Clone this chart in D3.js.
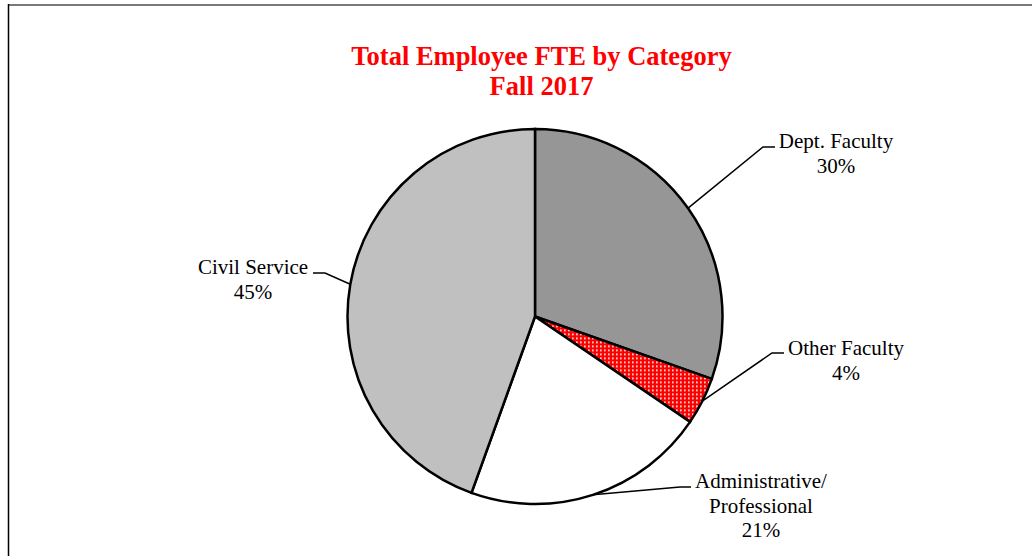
<!DOCTYPE html>
<html>
<head>
<meta charset="utf-8">
<script src="https://cdn.jsdelivr.net/npm/d3@7"></script>
<style>
  html, body { margin: 0; padding: 0; background: #fff; }
  svg { display: block; }
  text { font-family: 'Liberation Serif', 'Times New Roman', serif; fill: #000; }
</style>
</head>
<body>
<div class="container"></div>
<script>
// data
const categories = ['Dept. Faculty', 'Other Faculty', 'Administrative/Professional', 'Civil Service'];
const shares = [30.4, 4.1, 21.0, 44.5];
const labelNames = [['Dept. Faculty'], ['Other Faculty'], ['Administrative/', 'Professional'], ['Civil Service']];
const titleLines = ['Total Employee FTE by Category', 'Fall 2017'];

const width = 1032;
const height = 556;
const cx = 535;
const cy = 316.5;
const radius = 187.5;

const fills = ['#969696', 'url(#dots)', '#ffffff', '#c0c0c0'];

// label layout: text centre x, first baseline y, elbow point, end of the short horizontal tick
const labelLayout = [
  { x: 836, y: 148, elbow: [763, 147], end: [775, 147] },
  { x: 846, y: 355, elbow: [772, 353], end: [784, 353] },
  { x: 761, y: 488, elbow: [680, 487], end: [691, 487] },
  { x: 253, y: 274, elbow: [325, 273], end: [313, 273] }
];

const svg = d3
  .select('.container')
  .append('svg')
  .attr('width', width)
  .attr('height', height);

// dotted red pattern
const pattern = svg
  .append('defs')
  .append('pattern')
  .attr('id', 'dots')
  .attr('patternUnits', 'userSpaceOnUse')
  .attr('width', 4)
  .attr('height', 4);
pattern.append('rect').attr('width', 4).attr('height', 4).attr('fill', '#ff0000');
pattern.append('rect').attr('x', 1).attr('y', 1).attr('width', 1.7).attr('height', 1.6).attr('fill', '#ffffff');

// frame
svg.append('line')
  .attr('x1', 8).attr('x2', width).attr('y1', 5).attr('y2', 5)
  .attr('stroke', '#7a7a7a').attr('stroke-width', 2);
svg.append('line')
  .attr('x1', 8.5).attr('x2', 8.5).attr('y1', 4).attr('y2', height)
  .attr('stroke', '#000').attr('stroke-width', 1.5);

// title
svg.append('text')
  .attr('x', 541.5)
  .attr('text-anchor', 'middle')
  .style('font-size', '26.5px')
  .style('font-weight', 'bold')
  .style('fill', '#ff0000')
  .selectAll('tspan')
  .data(titleLines)
  .enter()
  .append('tspan')
  .attr('x', 541.5)
  .attr('y', (d, i) => 64.5 + i * 30.5)
  .text(d => d);

const pie = d3.pie().sort(null).value(d => d);
const arcs = pie(shares);

const arc = d3.arc().innerRadius(0).outerRadius(radius);

const g = svg.append('g').attr('transform', `translate(${cx}, ${cy})`);

g.selectAll('path')
  .data(arcs)
  .enter()
  .append('path')
  .attr('d', arc)
  .attr('fill', (d, i) => fills[i])
  .attr('stroke', '#000')
  .attr('stroke-width', 2.5)
  .attr('stroke-linejoin', 'miter');

// leader lines from the middle of each slice's outer edge
const edgePoint = d => {
  const a = (d.startAngle + d.endAngle) / 2;
  return [cx + radius * Math.sin(a), cy - radius * Math.cos(a)];
};

svg.selectAll('.leader')
  .data(arcs)
  .enter()
  .append('polyline')
  .attr('class', 'leader')
  .attr('fill', 'none')
  .attr('stroke', '#000')
  .attr('stroke-width', 1.5)
  .attr('points', (d, i) => {
    const p = edgePoint(d);
    const l = labelLayout[i];
    return [p, l.elbow, l.end].map(q => q.join(',')).join(' ');
  });

// labels
const labels = svg.selectAll('.label')
  .data(arcs)
  .enter()
  .append('text')
  .attr('class', 'label')
  .attr('text-anchor', 'middle')
  .style('font-size', '21px');

labels.selectAll('tspan')
  .data((d, i) => labelNames[i].concat([Math.round(shares[i]) + '%']).map(t => ({ t, i })))
  .enter()
  .append('tspan')
  .attr('x', d => labelLayout[d.i].x)
  .attr('y', (d, j) => labelLayout[d.i].y + j * 24.7)
  .text(d => d.t);
</script>
</body>
</html>
